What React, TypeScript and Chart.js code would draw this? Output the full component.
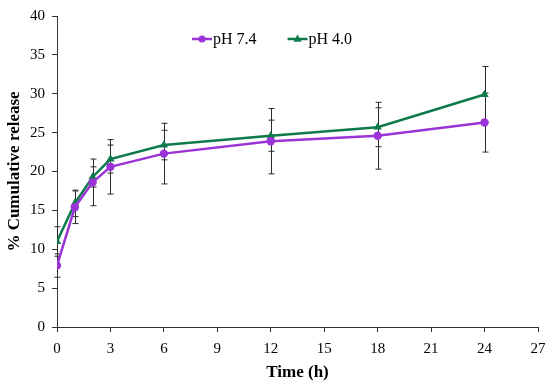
import React, { useEffect, useRef } from "react";
import { Chart, registerables } from "chart.js";

Chart.register(...registerables);

const times = [0, 1, 2, 3, 6, 12, 18, 24];
const ph74 = [7.9, 15.4, 18.6, 20.6, 22.3, 23.9, 24.6, 26.3];
const ph74Err = [1.5, 2.1, 3.0, 3.5, 3.9, 4.2, 4.3, 3.8];
const ph40 = [11.0, 15.9, 19.3, 21.6, 23.4, 24.6, 25.7, 29.9];
const ph40Err = [1.9, 1.7, 1.3, 1.8, 1.9, 2.0, 2.5, 3.6];
const seriesLabels = ["pH 7.4", "pH 4.0"];
const xTitle = "Time (h)";
const yTitle = "% Cumulative release";

const PURPLE = "#9B34D6";
const GREEN = "#0E7A4C";
const FONT = '"Liberation Serif", "Times New Roman", serif';

const errorBarPlugin = {
  id: "errorBars",
  beforeDatasetsDraw(chart: any) {
    const ctx = chart.ctx;
    const xs = chart.scales.x;
    const ys = chart.scales.y;
    ctx.save();
    ctx.strokeStyle = "#2a2a2a";
    ctx.lineWidth = 1;
    chart.data.datasets.forEach((ds: any) => {
      const errs: number[] = ds.errors || [];
      ds.data.forEach((p: any, i: number) => {
        const e = errs[i];
        if (e == null) return;
        const px = Math.round(xs.getPixelForValue(p.x)) + 0.5;
        const yHi = ys.getPixelForValue(p.y + e);
        const yLo = ys.getPixelForValue(p.y - e);
        ctx.beginPath();
        ctx.moveTo(px, yHi);
        ctx.lineTo(px, yLo);
        ctx.moveTo(px - 3, yHi);
        ctx.lineTo(px + 3, yHi);
        ctx.moveTo(px - 3, yLo);
        ctx.lineTo(px + 3, yLo);
        ctx.stroke();
      });
    });
    ctx.restore();
  },
};

const legendPlugin = {
  id: "insideLegend",
  afterDraw(chart: any) {
    const ctx = chart.ctx;
    const { left, top } = chart.chartArea;
    let x = left + 135;
    const y = top + 23;
    ctx.save();
    ctx.font = `16px ${FONT}`;
    chart.data.datasets.forEach((ds: any) => {
      ctx.strokeStyle = ds.borderColor;
      ctx.lineWidth = 2.5;
      ctx.beginPath();
      ctx.moveTo(x, y);
      ctx.lineTo(x + 20, y);
      ctx.stroke();
      ctx.fillStyle = ds.borderColor;
      const cx = x + 10;
      ctx.beginPath();
      if (ds.pointStyle === "triangle") {
        const r = 4.5;
        ctx.moveTo(cx, y - r);
        ctx.lineTo(cx + r * 0.9, y + r * 0.6);
        ctx.lineTo(cx - r * 0.9, y + r * 0.6);
        ctx.closePath();
      } else {
        ctx.arc(cx, y, 3.5, 0, Math.PI * 2);
      }
      ctx.fill();
      ctx.fillStyle = "#000";
      ctx.textBaseline = "middle";
      ctx.textAlign = "left";
      ctx.fillText(ds.label, x + 21, y + 1);
      x += 21 + ctx.measureText(ds.label).width + 31;
    });
    ctx.restore();
  },
};

export default function App() {
  const ref = useRef<HTMLCanvasElement>(null);
  useEffect(() => {
    if (!ref.current) return;
    Chart.defaults.font.family = FONT;
    Chart.defaults.color = "#000";
    const chart = new Chart(ref.current, {
      type: "line",
      data: {
        datasets: [
          {
            label: seriesLabels[0],
            data: times.map((t, i) => ({ x: t, y: ph74[i] })),
            errors: ph74Err,
            borderColor: PURPLE,
            backgroundColor: PURPLE,
            borderWidth: 2.5,
            pointStyle: "circle",
            pointRadius: 4.2,
            pointBorderWidth: 0,
            tension: 0,
          } as any,
          {
            label: seriesLabels[1],
            data: times.map((t, i) => ({ x: t, y: ph40[i] })),
            errors: ph40Err,
            borderColor: GREEN,
            backgroundColor: GREEN,
            borderWidth: 2.5,
            pointStyle: "triangle",
            pointRadius: 4.8,
            pointBorderWidth: 0,
            tension: 0,
          } as any,
        ],
      },
      options: {
        animation: false,
        responsive: true,
        maintainAspectRatio: false,
        layout: { padding: { top: 15, right: 12, left: 0, bottom: 0 } },
        plugins: {
          legend: { display: false },
          tooltip: { enabled: false },
        },
        scales: {
          x: {
            type: "linear",
            min: 0,
            max: 27,
            ticks: { stepSize: 3, font: { size: 15 }, padding: 8, color: "#000" },
            grid: { drawOnChartArea: false, drawTicks: true, tickLength: 5, color: "#333" },
            border: { color: "#333", width: 1 },
            title: { display: true, text: xTitle, font: { size: 17, weight: "bold" }, color: "#000" },
            afterFit: (s: any) => {
              s.height = 60;
              s.paddingRight = 0;
              s.paddingLeft = 0;
            },
          },
          y: {
            min: 0,
            max: 40,
            ticks: { stepSize: 5, font: { size: 15 }, padding: 7, color: "#000" },
            grid: { drawOnChartArea: false, drawTicks: true, tickLength: 5, color: "#333" },
            border: { color: "#333", width: 1 },
            title: { display: true, text: yTitle, font: { size: 17, weight: "bold" }, color: "#000" },
            afterFit: (s: any) => {
              s.width = 57;
            },
          },
        },
      } as any,
      plugins: [errorBarPlugin, legendPlugin],
    });
    return () => chart.destroy();
  }, []);
  return (
    <div style={{ position: "fixed", left: 0, top: 0, width: 550, height: 387, background: "#fff" }}>
      <canvas ref={ref} />
    </div>
  );
}
